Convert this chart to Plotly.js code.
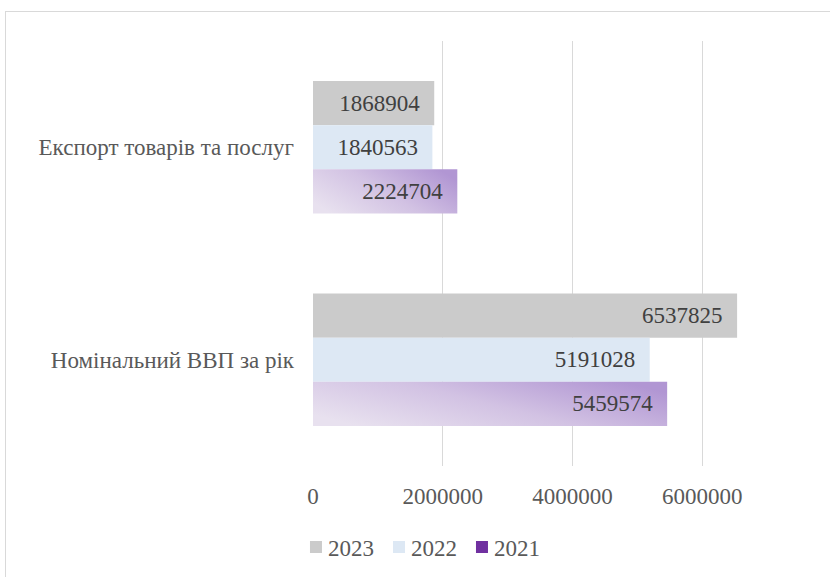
<!DOCTYPE html>
<html>
<head>
<meta charset="utf-8">
<script src="https://cdn.plot.ly/plotly-3.0.1.min.js"></script>
<style>
  html, body { margin: 0; padding: 0; background: #ffffff; overflow: hidden; font-family: 'Liberation Serif', serif; }
  #wrap { position: relative; width: 830px; height: 577px; }
  #chart { width: 830px; height: 577px; }
  #frame { position: absolute; left: 5px; top: 11px; width: 900px; height: 700px;
           border: 1px solid #d9d9d9; pointer-events: none; box-sizing: border-box; }
  #note { position: absolute; left: 10px; top: 14px; width: 300px; font: 10px monospace; color: rgba(255,255,255,0); pointer-events: none; }
</style>
</head>
<body>
<svg width="0" height="0" style="position:absolute">
  <defs>
    <linearGradient id="purpleGrad" x1="0" y1="0.75" x2="1" y2="0.25">
      <stop offset="0" stop-color="#e8e1ef"/>
      <stop offset="0.5" stop-color="#d2c2e3"/>
      <stop offset="1" stop-color="#b196d3"/>
    </linearGradient>
  </defs>
</svg>
<div id="wrap">
  <div id="chart"></div>
  <div id="frame"></div>
  <div id="note"></div>
</div>
<script>
const categories = ['Експорт товарів та послуг', 'Номінальний ВВП за рік'];
const seriesNames = ['2023', '2022', '2021'];
const values2023 = [1868904, 6537825];
const values2022 = [1840563, 5191028];
const values2021 = [2224704, 5459574];
const tickValues = [0, 2000000, 4000000, 6000000];
const tickLabels = ['0', '2000000', '4000000', '6000000'];

const FONT = 'Liberation Serif';
const pad = '\u00a0\u00a0';

function barTrace(name, vals, color) {
  return {
    type: 'bar',
    orientation: 'h',
    name: name,
    y: categories,
    x: vals,
    text: vals.map(v => String(v) + pad),
    textposition: 'inside',
    insidetextanchor: 'end',
    textangle: 0,
    textfont: { family: FONT, size: 23, color: '#404040' },
    marker: { color: color, line: { width: 0 } },
    hoverinfo: 'none'
  };
}

const data = [
  barTrace(seriesNames[0], values2023, '#cbcbcb'),
  barTrace(seriesNames[1], values2022, '#dde8f4'),
  barTrace(seriesNames[2], values2021, '#7030a0')
];

const layout = {
  width: 830,
  height: 577,
  margin: { l: 313, r: 0, t: 41, b: 111, pad: 0 },
  paper_bgcolor: 'rgba(0,0,0,0)',
  plot_bgcolor: 'rgba(0,0,0,0)',
  font: { family: FONT, size: 23, color: '#595959' },
  barmode: 'group',
  bargap: 0.376,
  bargroupgap: 0,
  showlegend: true,
  legend: {
    orientation: 'h',
    xref: 'container', yref: 'container',
    x: 0.3566, xanchor: 'left',
    y: 0.052, yanchor: 'middle',
    entrywidth: 38,
    entrywidthmode: 'pixels',
    font: { family: FONT, size: 23, color: '#595959' },
    bgcolor: 'rgba(0,0,0,0)'
  },
  xaxis: {
    range: [0, 7970000],
    tickvals: tickValues,
    ticktext: tickLabels,
    showgrid: true,
    gridcolor: '#d9d9d9',
    gridwidth: 1,
    zeroline: false,
    showline: false,
    ticks: '',
    ticklabelstandoff: 14,
    tickfont: { family: FONT, size: 23, color: '#595959' },
    fixedrange: true
  },
  yaxis: {
    type: 'category',
    categoryorder: 'array',
    categoryarray: categories,
    autorange: 'reversed',
    showgrid: false,
    zeroline: false,
    showline: false,
    ticks: '',
    ticklabelstandoff: 18,
    tickfont: { family: FONT, size: 23, color: '#595959' },
    fixedrange: true
  }
};

Plotly.newPlot('chart', data, layout, { displayModeBar: false }).then(gd => {
  const traces = gd.querySelectorAll('.barlayer .trace');
  const t2021 = traces[2];
  if (t2021) {
    t2021.querySelectorAll('.point path').forEach(p => {
      p.style.fill = 'url(#purpleGrad)';
      p.style.fillOpacity = 1;
    });
  }
  gd.querySelectorAll('.legend .legendtext').forEach(t => t.setAttribute('x', 32));
  const t = gd.querySelector('.ytick text');
  document.getElementById('note').textContent = 'font: ' + (t ? t.getAttribute('style') : '');
});
</script>
</body>
</html>
